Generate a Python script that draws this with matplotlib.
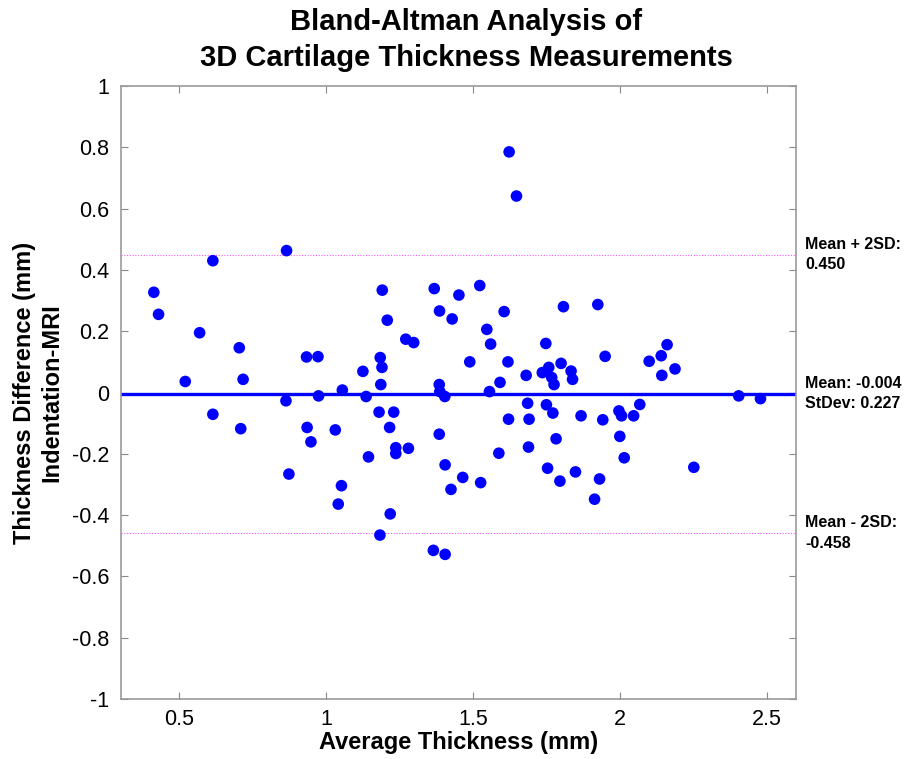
import matplotlib
matplotlib.use("Agg")
import matplotlib.pyplot as plt

plt.rcParams['font.family'] = ['Liberation Sans', 'DejaVu Sans']

avg_thickness = [
    0.413, 0.429, 0.520, 0.569, 0.614, 0.614, 0.704, 0.709, 0.717, 0.865,
    0.863, 0.873, 0.933, 0.935, 0.948, 0.972, 0.974, 1.031, 1.041, 1.052,
    1.055, 1.125, 1.136, 1.144, 1.180, 1.183, 1.184, 1.186, 1.190, 1.191,
    1.208, 1.216, 1.218, 1.230, 1.237, 1.237, 1.271, 1.280, 1.298, 1.365,
    1.368, 1.385, 1.385, 1.386, 1.387, 1.404, 1.405, 1.405, 1.425, 1.429,
    1.452, 1.465, 1.489, 1.523, 1.526, 1.547, 1.556, 1.560, 1.588, 1.592,
    1.606, 1.619, 1.621, 1.623, 1.648, 1.681, 1.686, 1.689, 1.691, 1.736,
    1.748, 1.750, 1.754, 1.758, 1.768, 1.772, 1.776, 1.783, 1.796, 1.800,
    1.808, 1.834, 1.839, 1.849, 1.868, 1.914, 1.925, 1.931, 1.942, 1.950,
    1.997, 2.000, 2.006, 2.015, 2.047, 2.068, 2.100, 2.141, 2.143, 2.161,
    2.188, 2.252, 2.405, 2.479,
]
thickness_diff = [
    0.327, 0.255, 0.036, 0.195, 0.430, -0.071, 0.146, -0.118, 0.043, 0.463,
    -0.027, -0.266, 0.116, -0.114, -0.161, 0.117, -0.011, -0.122, -0.364, -0.304,
    0.008, 0.069, -0.013, -0.210, -0.064, -0.465, 0.114, 0.026, 0.082, 0.334,
    0.236, -0.114, -0.396, -0.064, -0.180, -0.199, 0.174, -0.182, 0.163, -0.515,
    0.339, 0.026, -0.136, 0.266, 0.003, -0.013, -0.236, -0.528, -0.316, 0.240,
    0.318, -0.277, 0.100, 0.349, -0.294, 0.206, 0.003, 0.158, -0.198, 0.033,
    0.264, 0.100, -0.087, 0.785, 0.641, 0.056, -0.035, -0.178, -0.087, 0.065,
    0.160, -0.040, -0.247, 0.082, 0.049, -0.067, 0.026, -0.151, -0.289, 0.095,
    0.280, 0.070, 0.043, -0.259, -0.076, -0.348, 0.287, -0.282, -0.089, 0.118,
    -0.060, -0.143, -0.076, -0.213, -0.076, -0.039, 0.102, 0.120, 0.056, 0.156,
    0.077, -0.244, -0.011, -0.020,
]

mean_diff = -0.004
sd_diff = 0.227
upper_limit = 0.450
lower_limit = -0.458

x_ticks = [0.5, 1.0, 1.5, 2.0, 2.5]
x_tick_labels = ['0.5', '1', '1.5', '2', '2.5']
y_ticks = [-1, -0.8, -0.6, -0.4, -0.2, 0, 0.2, 0.4, 0.6, 0.8, 1]
y_tick_labels = ['-1', '-0.8', '-0.6', '-0.4', '-0.2', '0', '0.2', '0.4', '0.6', '0.8', '1']

fig = plt.figure(figsize=(9.12, 7.59), dpi=100)
ax = fig.add_axes([0.1323, 0.079, 0.7405, 0.8077])

ax.scatter(avg_thickness, thickness_diff, s=70, color='#0000ff', edgecolors='none', zorder=3)
ax.axhline(mean_diff, color='#0000ff', linewidth=2.4, zorder=2)
ax.axhline(upper_limit, color='#ff55ff', linewidth=0.8, linestyle=(0, (1, 1.5)), zorder=1)
ax.axhline(lower_limit, color='#ff55ff', linewidth=0.8, linestyle=(0, (1, 1.5)), zorder=1)

ax.set_xlim(0.3, 2.6)
ax.set_ylim(-1, 1)
ax.set_xticks(x_ticks)
ax.set_xticklabels(x_tick_labels)
ax.set_yticks(y_ticks)
ax.set_yticklabels(y_tick_labels)
ax.tick_params(direction='in', length=5, width=0.8, color='#888888', labelsize=15.5,
               top=True, right=True, pad=8, labelcolor='black')
ax.tick_params(axis='x', pad=7)
for sp in ax.spines.values():
    sp.set_color('#999999')
    sp.set_linewidth(1.2)

ax.set_xlabel('Average Thickness (mm)', fontsize=17, fontweight='bold', labelpad=1)
ax.set_ylabel('Thickness Difference (mm)\nIndentation-MRI', fontsize=17, fontweight='bold',
              labelpad=6, linespacing=1.25)

fig.text(466 / 912, 1 - 40 / 759, 'Bland-Altman Analysis of\n3D Cartilage Thickness Measurements',
         ha='center', va='center', fontsize=21, fontweight='bold', linespacing=1.35)

trans = ax.get_yaxis_transform()
ax.text(1.014, upper_limit, 'Mean + 2SD:\n%.3f' % upper_limit, transform=trans,
        ha='left', va='center', fontsize=11.5, fontweight='bold', linespacing=1.45)
ax.text(1.014, mean_diff, 'Mean: %.3f\nStDev: %.3f' % (mean_diff, sd_diff), transform=trans,
        ha='left', va='center', fontsize=11.5, fontweight='bold', linespacing=1.45)
ax.text(1.014, lower_limit, 'Mean - 2SD:\n%.3f' % lower_limit, transform=trans,
        ha='left', va='center', fontsize=11.5, fontweight='bold', linespacing=1.45)

fig.savefig('out.png', dpi=100)
